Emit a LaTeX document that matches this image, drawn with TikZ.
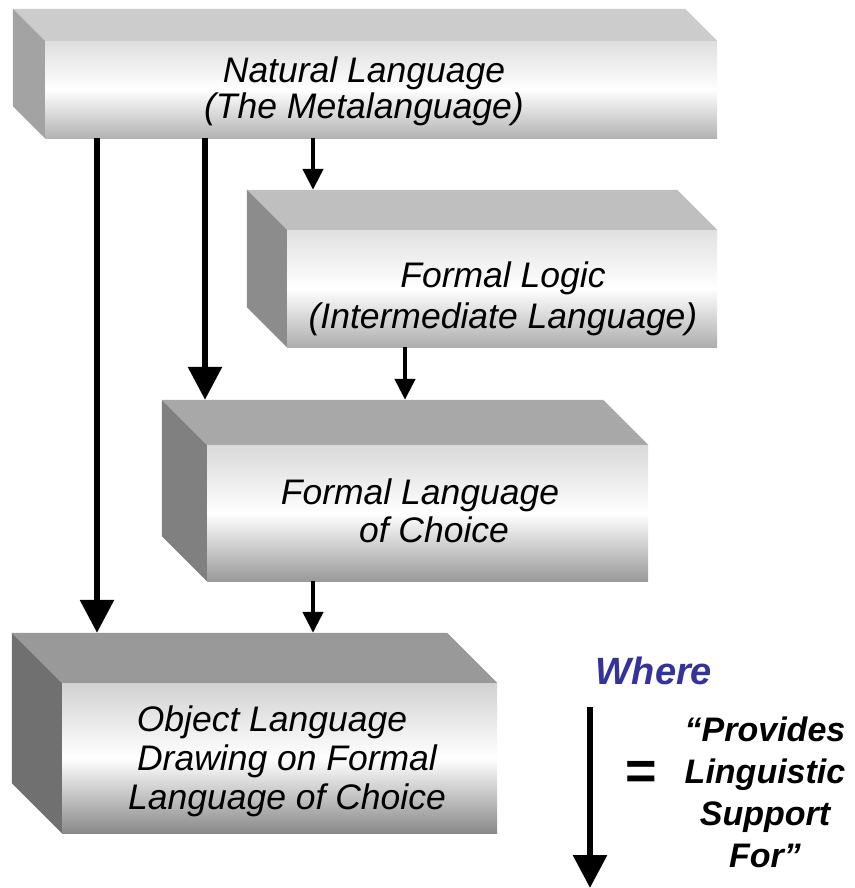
\documentclass[tikz,border=0pt]{standalone}
\usepackage{fontspec}
\setmainfont{Liberation Sans}
\usetikzlibrary{arrows.meta,calc}

\definecolor{where}{RGB}{51,51,153}

\tikzset{
  every node/.style={inner sep=0pt},
  front/.style 2 args={rectangle,top color=#1,bottom color=#2,middle color=white},
  lbl/.style={align=center,font=\fontsize{35.5}{#1}\selectfont\itshape},
  big/.style={line width=6pt,-{Triangle[width=33pt,length=33pt]}},
  small/.style={line width=4.5pt,-{Triangle[width=20pt,length=21pt]}}
}

% top and left face of a box, and its back corner
\newcommand{\boxsides}[4]{%
  \fill[#3] ($(#1.north west)+(-#2,-#2)$) -- ($(#1.north east)+(-#2,-#2)$)
    -- (#1.north east) -- (#1.north west) -- cycle;
  \fill[#4] ($(#1.north west)+(-#2,-#2)$) -- (#1.north west)
    -- (#1.south west) -- ($(#1.south west)+(-#2,-#2)$) -- cycle;
  \coordinate (#1-back) at ($(#1.north west)+(-#2,-#2)$);
}

\begin{document}
\begin{tikzpicture}[x=1pt,y=-1pt]
      \useasboundingbox (0,0) rectangle (854,888);

      \node [front={black!13}{black!30},minimum width=672pt,minimum height=97pt] (nat) at (381,89.5) {};
      \node [front={black!12}{black!32},minimum width=430pt,minimum height=117pt] (logic) at (502,288.5) {};
      \node [front={black!15}{black!40},minimum width=441pt,minimum height=136pt] (choice) at (427.5,513) {};
      \node [front={black!18}{black!46},minimum width=435pt,minimum height=150pt] (obj) at (279.5,758) {};

      \boxsides{nat}{32}{black!20}{black!36}
      \boxsides{logic}{40}{black!25}{black!45}
      \boxsides{choice}{45}{black!34}{black!50}
      \boxsides{obj}{50}{black!40}{black!56}

      \node [lbl=36] (nat-t) at (364,91.5) {Natural Language\\(The Metalanguage)};
      \node [lbl=41] (logic-t) at (503,299) {Formal Logic\\(Intermediate Language)};
      \node [lbl=38] (choice-t) at (420,511) {Formal Language\\\hspace*{28pt}of Choice};
      \node [lbl=39] (obj-t) at (287,761.5) {Object Language\hspace*{30pt}\\Drawing on Formal\\Language of Choice};

      \draw [big] (nat.south -| 97,0) -- (obj-back -| 97,0);
      \draw [big] (nat.south -| 205,0) -- (choice-back -| 205,0);
      \draw [small] (nat.south -| 313,0) -- (logic-back -| 313,0);
      \draw [small] (logic.south -| 405,0) -- (choice-back -| 405,0);
      \draw [small] (choice.south -| 313,0) -- (obj-back -| 313,0);

      % legend
      \node [text=where,font=\fontsize{38}{42}\selectfont\bfseries\itshape] (where) at (654,670.5) {Where};
      \coordinate (leg-top) at (590,707);
      \coordinate (leg-end) at (590,888);
      \draw [big] (leg-top) -- (leg-end);
      \node [font=\fontsize{54}{60}\selectfont\bfseries] (eq) at (641,775) {=};
      \node [align=center,font=\fontsize{34}{42}\selectfont\bfseries\itshape] (prov) at (765,792.5) {“Provides\\Linguistic\\Support\\For”};
    \end{tikzpicture}
\end{document}
